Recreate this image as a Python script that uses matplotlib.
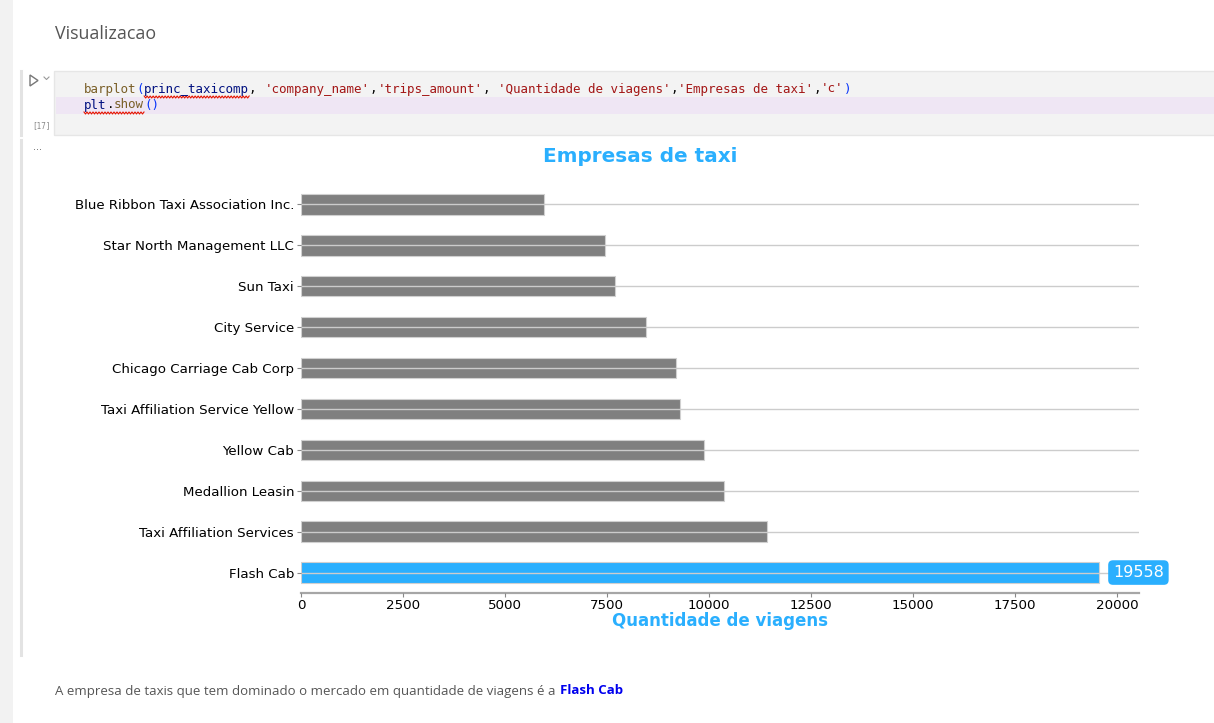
import numpy as np
import matplotlib
matplotlib.use("Agg")
import matplotlib.pyplot as plt
from matplotlib.patches import Rectangle, Polygon
from matplotlib.lines import Line2D

# ---------------- data ----------------
companies = ['Blue Ribbon Taxi Association Inc.', 'Star North Management LLC', 'Sun Taxi',
             'City Service', 'Chicago Carriage Cab Corp', 'Taxi Affiliation Service Yellow',
             'Yellow Cab', 'Medallion Leasin', 'Taxi Affiliation Services', 'Flash Cab']
trips = [5953, 7455, 7701, 8448, 9181, 9299, 9888, 10367, 11422, 19558]
title = 'Empresas de taxi'
xlabel = 'Quantidade de viagens'
xticks = [0, 2500, 5000, 7500, 10000, 12500, 15000, 17500, 20000]

W, H = 1214, 723
BLUE = '#2aaffe'
GRAY = '#808080'

fig = plt.figure(figsize=(W / 100, H / 100), dpi=100)
fig.patch.set_facecolor('white')

def fx(x):
    return x / W

def fy(y):
    return 1 - y / H

# ---------------- notebook chrome ----------------
fig.patches.append(Rectangle((0, 0), fx(13), 1, transform=fig.transFigure,
                             facecolor='#f2f2f2', edgecolor='none', zorder=0))
# code cell
fig.patches.append(Rectangle((fx(54), fy(135)), fx(1214 - 54) + 0.01, (135 - 71) / H,
                             transform=fig.transFigure, facecolor='#f3f3f3',
                             edgecolor='#e6e6e6', linewidth=1, zorder=0))
fig.patches.append(Rectangle((fx(56), fy(114)), 1, (114 - 97) / H,
                             transform=fig.transFigure, facecolor='#efe6f4',
                             edgecolor='none', zorder=0.5))
# left borders
for y0, y1 in [(71, 135), (140, 655)]:
    fig.lines.append(Line2D([fx(21), fx(21)], [fy(y0), fy(y1)], transform=fig.transFigure,
                            color='#e3e3e3', linewidth=2.2))

fig.text(fx(55), fy(34), 'Visualizacao', fontsize=12.9, color='#555555',
         family='Open Sans', ha='left', va='center')

# run icon
fig.patches.append(Polygon([[fx(30), fy(75)], [fx(30), fy(86)], [fx(38), fy(80.5)]], closed=True,
                           transform=fig.transFigure, facecolor='none',
                           edgecolor='#777777', linewidth=1))
fig.lines.append(Line2D([fx(44), fx(46.5), fx(49)], [fy(77), fy(79.5), fy(77)],
                        transform=fig.transFigure, color='#999999', linewidth=0.8))
fig.text(fx(41), fy(126), '[17]', fontsize=5.5, color='#888888', family='DejaVu Sans Mono',
         ha='center', va='center')
fig.text(fx(37), fy(147), '...', fontsize=7, color='#666666', ha='center', va='center')

# code text (monospace)
cw = 7.52
fs_code = cw * 72 / (0.602 * 100)
line1 = [("barplot", '#795e26'), ("(", '#0431fa'), ("princ_taxicomp", '#001080'), (", ", '#000000'),
         ("'company_name'", '#a31515'), (",", '#000000'), ("'trips_amount'", '#a31515'),
         (", ", '#000000'), ("'Quantidade de viagens'", '#a31515'), (",", '#000000'),
         ("'Empresas de taxi'", '#a31515'), (",", '#000000'), ("'c'", '#a31515'), (")", '#0431fa')]
line2 = [("plt", '#001080'), (".", '#000000'), ("show", '#795e26'), ("()", '#0431fa')]

def draw_code(segs, y):
    idx = 0
    for s, c in segs:
        fig.text(fx(84 + idx * cw), fy(y), s, fontsize=fs_code, color=c,
                 family='DejaVu Sans Mono', ha='left', va='center')
        idx += len(s)

draw_code(line1, 89)
draw_code(line2, 105)

def squiggle(x0, x1, y):
    xs = np.arange(x0, x1 + 0.1, 1.5)
    ys = y + np.where(np.arange(len(xs)) % 2 == 0, -1.0, 1.0)
    fig.lines.append(Line2D(fx(xs), fy(ys), transform=fig.transFigure,
                            color='#e51400', linewidth=0.8))

squiggle(84 + 8 * cw, 84 + 22 * cw, 97)
squiggle(84, 84 + 8 * cw, 113)

# bottom markdown text
t1 = fig.text(fx(55), fy(691), 'A empresa de taxis que tem dominado o mercado em quantidade de viagens é a',
              fontsize=9.55, color='#555555', family='Open Sans', ha='left', va='center')
fig.canvas.draw()
bb = t1.get_window_extent(fig.canvas.get_renderer())
fig.text(bb.x1 / W + fx(4), fy(691), 'Flash Cab', fontsize=9.55, color='#0000ee',
         family='Open Sans', fontweight='bold', ha='left', va='center')

# ---------------- chart ----------------
ax = fig.add_axes([fx(301), fy(593), fx(1139 - 301), (593 - 184) / H])
y = np.arange(len(companies))
colors = [BLUE if v == max(trips) else GRAY for v in trips]
ax.barh(y, trips, height=0.5, color=colors, edgecolor='#d0d0d0', linewidth=0.8, zorder=1)
ax.set_ylim(len(companies) - 0.5, -0.5)
ax.set_xlim(0, max(trips) * 1.05)
ax.set_yticks(y)
ax.set_yticklabels(companies, fontsize=9.65)
ax.set_xticks(xticks)
ax.set_xticklabels([str(t) for t in xticks], fontsize=9.65)
ax.grid(axis='y', color='#cccccc', linewidth=1, zorder=2)
ax.set_axisbelow(False)
for s in ['top', 'right', 'left']:
    ax.spines[s].set_visible(False)
ax.spines['bottom'].set_color('#a6a6a6')
ax.spines['bottom'].set_linewidth(1.6)
ax.tick_params(axis='y', length=3, pad=2, color='#888888')
ax.tick_params(axis='x', length=3, pad=1, color='#888888')
ax.set_xlabel(xlabel, fontsize=12, fontweight='bold', color=BLUE, labelpad=0.5)

imax = int(np.argmax(trips))
ax.annotate(str(trips[imax]), xy=(trips[imax], y[imax]), xytext=(10, 0),
            textcoords='offset points', ha='left', va='center', fontsize=11.5, color='white',
            bbox=dict(boxstyle='round,pad=0.3', facecolor=BLUE, edgecolor='none'), zorder=5)

fig.text(fx(640), fy(157), title, fontsize=14.4, fontweight='bold', color=BLUE,
         ha='center', va='center')

fig.savefig('out.png', dpi=100)
